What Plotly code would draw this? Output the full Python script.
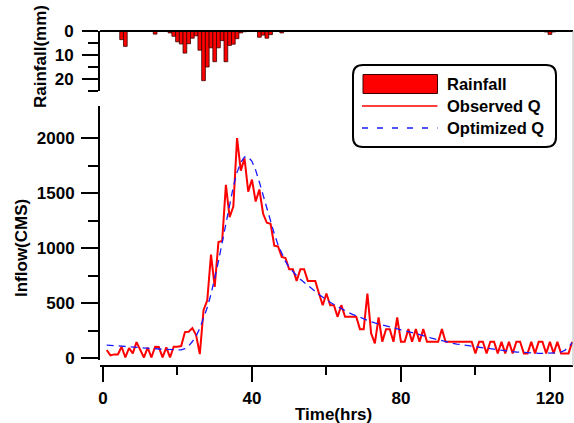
import plotly.graph_objects as go

# ---------------- data ----------------
hours = list(range(1, 127))

observed_q = [73, 24, 33, 33, 103, 5, 91, 42, 145, 73,
              5, 94, 5, 103, 100, 5, 97, 5, 103, 103,
              109, 236, 239, 272, 209, 36, 436, 526, 941, 647,
              1056, 1065, 1576, 1283, 1379, 2002, 1706, 1818, 1515, 1624,
              1425, 1534, 1313, 1231, 1222, 1022, 1016, 920, 910, 808,
              808, 702, 808, 808, 702, 702, 702, 587, 481, 587,
              481, 481, 375, 481, 375, 375, 375, 375, 263, 263,
              587, 224, 133, 369, 148, 263, 263, 148, 369, 148,
              148, 263, 148, 263, 148, 263, 148, 148, 148, 148,
              263, 148, 148, 148, 148, 148, 148, 148, 148, 42,
              148, 148, 42, 148, 148, 42, 148, 42, 148, 42,
              148, 148, 42, 42, 148, 42, 148, 148, 42, 148,
              42, 148, 42, 42, 42, 148]

optimized_q = [118, 115, 112, 110, 107, 104, 101, 98, 95, 92,
               90, 88, 86, 84, 82, 80, 78, 76, 74, 72,
               74, 85, 110, 150, 200, 270, 360, 460, 580, 720,
               880, 1050, 1230, 1400, 1560, 1690, 1780, 1830, 1830, 1790,
               1710, 1600, 1480, 1360, 1240, 1130, 1030, 950, 880, 825,
               785, 750, 718, 688, 660, 632, 605, 578, 553, 530,
               508, 487, 467, 448, 430, 414, 398, 383, 368, 354,
               341, 330, 320, 310, 300, 292, 283, 274, 265, 256,
               248, 240, 231, 222, 213, 204, 195, 183, 174, 165,
               156, 147, 139, 133, 127, 121, 116, 111, 107, 103,
               98, 93, 88, 83, 78, 73, 69, 65, 61, 58,
               55, 52, 49, 47, 45, 44, 43, 42, 42, 42,
               44, 48, 55, 70, 100, 140]

rain_hours = [5, 6, 11, 12, 14, 18, 19, 20, 21, 22,
              23, 24, 25, 26, 27, 28, 29, 30, 31, 32,
              33, 34, 35, 36, 37, 38, 42, 43, 44, 45,
              48, 64, 67, 70, 119, 120, 121]
rain_mm = [3.6, 6.4, 0.2, 0.2, 1.3, 0.8, 2.2, 4.5, 5.4, 9.2,
           5.3, 3.0, 2.0, 8.0, 20.7, 15.0, 7.0, 12.8, 7.0, 4.0,
           12.8, 6.0, 5.5, 3.2, 0.8, 0.3, 2.6, 1.7, 3.0, 1.5,
           0.8, 0.2, 0.2, 0.2, 0.4, 1.4, 0.4]

x_ticks = [0, 40, 80, 120]
x_minor = [20, 60, 100]
q_ticks = [0, 500, 1000, 1500, 2000]
q_minor = [250, 750, 1250, 1750]
r_ticks = [0, 10, 20]
r_minor = [5, 15, 25]

# ---------------- layout geometry ----------------
W, H = 574, 423
L, R, T, B = 100, 1, 31, 57
PW = W - L - R
PH = H - T - B


def fx(px):
    return (px - L) / PW


def fy(py):
    return (H - B - py) / PH


FONT = "Liberation Sans, Arial, sans-serif"
BOLD = dict(family=FONT, size=17, color="black", weight="bold")

fig = go.Figure()

fig.add_trace(go.Bar(
    x=rain_hours, y=rain_mm, width=1.0,
    marker=dict(color="#ff0000", line=dict(color="#3a0000", width=0.8)),
    xaxis="x2", yaxis="y2", name="Rainfall", showlegend=False))

fig.add_trace(go.Scatter(
    x=hours, y=observed_q, mode="lines",
    line=dict(color="#ff0000", width=2),
    name="Observed Q", showlegend=False))

fig.add_trace(go.Scatter(
    x=hours, y=optimized_q, mode="lines",
    line=dict(color="#1a1aff", width=1.3, dash="7px,5px"),
    name="Optimized Q", showlegend=False))

axis_common = dict(showgrid=False, zeroline=False, showline=True,
                   linecolor="black", linewidth=2, ticks="outside",
                   tickcolor="black", tickwidth=2, tickfont=BOLD)

fig.update_layout(
    width=W, height=H,
    margin=dict(l=L, r=R, t=T, b=B, autoexpand=False),
    paper_bgcolor="white", plot_bgcolor="white",
    font=dict(family=FONT),
    xaxis=dict(axis_common, range=[-0.8, 126.2], domain=[0, 1],
               anchor="free", position=0,
               tickmode="array", tickvals=x_ticks, ticklen=15,
               ticklabelstandoff=2,
               minor=dict(tickvals=x_minor, ticklen=8, tickwidth=2,
                          tickcolor="black", ticks="outside")),
    yaxis=dict(axis_common, range=[-18, 2294],
               domain=[fy(360), fy(106)], anchor="x",
               tickmode="array", tickvals=q_ticks, ticklen=17,
               ticklabelstandoff=3,
               minor=dict(tickvals=q_minor, ticklen=10, tickwidth=2,
                          tickcolor="black", ticks="outside")),
    xaxis2=dict(matches="x", visible=False, domain=[0, 1], anchor="y2"),
    yaxis2=dict(axis_common, range=[25, 0],
                domain=[fy(91), 1], anchor="x2",
                tickmode="array", tickvals=r_ticks, ticklen=16,
                ticklabelstandoff=5,
                minor=dict(tickvals=r_minor, ticklen=10, tickwidth=2,
                           tickcolor="black", ticks="outside")),
)

shapes = []
# top frame line and light right frame line
shapes.append(dict(type="line", xref="paper", yref="paper", x0=0, x1=1,
                   y0=1, y1=1, line=dict(color="black", width=2)))
shapes.append(dict(type="line", xref="paper", yref="paper", x0=1, x1=1,
                   y0=0, y1=1, line=dict(color="#b8b8b8", width=1)))

# legend box with rounded corners
x0, x1, y0, y1, r = 353, 556, 65, 147, 10
X0, X1, Y0, Y1 = fx(x0), fx(x1), fy(y0), fy(y1)
rx, ry = r / PW, r / PH
path = (f"M {X0+rx},{Y0} L {X1-rx},{Y0} Q {X1},{Y0} {X1},{Y0-ry} "
        f"L {X1},{Y1+ry} Q {X1},{Y1} {X1-rx},{Y1} "
        f"L {X0+rx},{Y1} Q {X0},{Y1} {X0},{Y1+ry} "
        f"L {X0},{Y0-ry} Q {X0},{Y0} {X0+rx},{Y0} Z")
shapes.append(dict(type="path", xref="paper", yref="paper", path=path,
                   fillcolor="white", line=dict(color="black", width=2)))
shapes.append(dict(type="rect", xref="paper", yref="paper",
                   x0=fx(363), x1=fx(437.5), y0=fy(93.5), y1=fy(74.5),
                   fillcolor="#ff0000", line=dict(color="#3a0000", width=1)))
shapes.append(dict(type="line", xref="paper", yref="paper",
                   x0=fx(362), x1=fx(437.5), y0=fy(106), y1=fy(106),
                   line=dict(color="#ff0000", width=1.5)))
shapes.append(dict(type="line", xref="paper", yref="paper",
                   x0=fx(362), x1=fx(437.5), y0=fy(128), y1=fy(128),
                   line=dict(color="#1a1aff", width=1.3, dash="6px,9px")))

annotations = []
for label, py in [("Rainfall", 84), ("Observed Q", 106), ("Optimized Q", 128)]:
    annotations.append(dict(text=label, xref="paper", yref="paper",
                            x=fx(445), y=fy(py), xanchor="left",
                            yanchor="middle", showarrow=False,
                            font=dict(BOLD, size=16.5)))

annotations.append(dict(text="Inflow(CMS)", xref="paper", yref="paper",
                        x=fx(21), y=fy(248), xanchor="center",
                        yanchor="middle", textangle=-90, showarrow=False,
                        font=BOLD))
annotations.append(dict(text="Rainfall(mm)", xref="paper", yref="paper",
                        x=fx(40), y=fy(57), xanchor="center",
                        yanchor="middle", textangle=-90, showarrow=False,
                        font=BOLD))
annotations.append(dict(text="Time(hrs)", xref="paper", yref="paper",
                        x=fx(333), y=fy(414), xanchor="center",
                        yanchor="middle", showarrow=False, font=BOLD))

fig.update_layout(shapes=shapes, annotations=annotations)

fig.write_html("out.html")
